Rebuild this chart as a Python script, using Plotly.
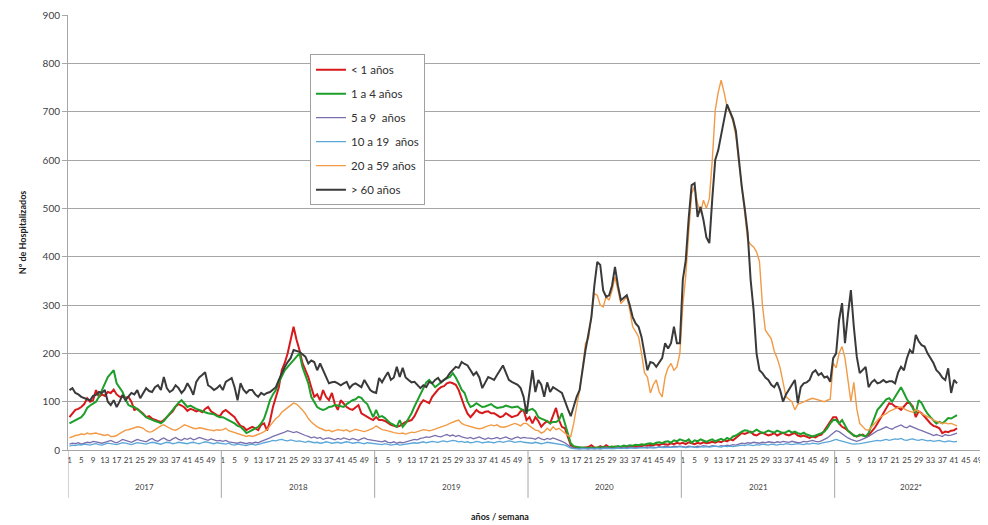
import plotly.graph_objects as go

years = ["2017", "2018", "2019", "2020", "2021", "2022*"]
weeks_per_year = [52, 52, 52, 52, 52, 42]
tick_weeks = [1, 5, 9, 13, 17, 21, 25, 29, 33, 37, 41, 45, 49]

# < 1 año
lt1 = [68,75,83,85,89,95,107,100,103,124, 110,115,112,120,118,125,115,110,110,108, 110,100,83,85,80,75,68,70,65,62, 60,58,62,68,75,80,90,95,92,88, 81,85,83,80,82,78,85,89,80,76,72,70,
       79,83,78,72,68,58,50,48,41,45, 48,45,41,52,55,40,60,89,110,130, 165,180,200,230,255,228,207,180,165,151, 130,110,115,103,124,110,103,118,95,83, 103,95,89,85,83,88,93,76,72,68,65,62,
       68,62,62,60,55,52,50,48,50,55, 58,60,62,70,83,95,103,100,97,110, 118,125,130,132,138,140,138,135,124,105, 89,75,68,75,83,78,76,79,80,76, 76,72,68,70,76,72,68,70,72,80,83,62,
       68,55,68,60,48,55,60,55,72,87, 62,48,45,28,10,6,5,5,4,5, 6,10,5,4,8,5,10,6,5,7, 6,5,8,6,7,8,6,9,8,10, 9,11,10,12,10,13,12,11,14,12,15,13,
       15,12,16,14,12,15,13,16,14,15, 17,15,18,16,20,18,22,20,25,30, 35,33,35,38,32,30,34,36,33,30, 32,35,30,33,36,32,30,33,35,30, 28,30,27,25,28,26,30,32,40,50,60,68,
       68,55,48,45,40,35,30,28,30,32, 28,30,38,45,55,65,75,85,97,95, 90,88,83,90,97,97,90,68,80,76, 70,62,55,50,48,45,35,38,37,40, 41,45]

# 1 a 4 años
a1_4 = [55,58,62,65,68,75,87,92,97,100, 110,124,135,151,158,165,138,130,120,105, 93,90,89,85,79,75,68,65,62,60, 58,55,60,68,75,83,90,98,103,95, 89,92,88,85,83,80,78,76,75,74,70,68,
        68,65,62,58,55,50,48,42,35,38, 41,45,48,55,65,83,103,115,124,140, 151,165,172,179,185,193,200,172,155,138, 110,100,89,85,83,85,89,90,93,92, 90,89,95,100,103,105,110,108,100,95,80,68,
        83,68,70,66,60,55,52,48,62,48, 55,65,76,90,103,115,130,140,145,138, 130,135,140,145,148,151,159,150,138,125, 118,100,89,92,97,93,89,90,93,95, 90,87,88,89,92,90,88,89,90,85,83,80,
        83,85,80,68,65,62,60,55,58,58, 62,76,55,35,14,8,6,5,5,4, 4,5,4,5,5,6,5,6,7,6, 8,7,9,8,10,9,11,10,12,11, 13,14,12,15,16,14,17,18,15,20,18,22,
        20,18,22,15,20,18,22,20,17,20, 22,18,20,23,20,25,22,28,30,35, 38,41,40,36,38,42,38,35,37,40, 38,36,40,38,35,37,40,36,38,35, 33,36,32,30,28,30,32,35,38,45,55,62,
        62,55,62,50,40,35,30,28,32,30, 28,35,50,68,83,90,97,105,107,100, 110,120,130,118,105,97,85,76,103,97, 85,75,68,62,55,58,55,60,66,65, 68,72]

# 5 a 9 años
a5_9 = [12,14,13,15,12,14,16,15,18,17, 15,14,16,18,20,17,15,18,22,20, 18,16,19,22,20,18,17,21,24,20, 18,22,25,21,19,23,26,22,20,24, 22,25,21,23,26,24,22,20,23,21,19,20,
        18,20,17,16,15,14,16,15,13,15, 14,16,15,18,20,22,25,28,30,33, 35,37,40,38,36,38,35,33,30,28, 25,27,24,26,22,24,25,23,21,24, 22,25,23,21,24,22,20,23,25,22,21,20,
        20,18,17,19,16,15,17,14,16,15, 17,18,20,22,21,24,25,27,26,28, 30,28,27,30,32,29,31,28,30,27, 25,24,26,23,25,27,24,22,25,23, 24,26,23,25,27,24,22,25,27,24,26,25,
        25,24,22,26,23,21,24,22,25,23, 20,18,15,10,6,4,3,3,4,3, 3,4,3,4,3,4,5,4,3,4, 5,4,5,4,6,5,4,6,5,6, 5,7,6,5,7,6,8,7,6,8,7,8,
        7,6,8,7,6,8,7,9,8,7, 9,8,7,9,8,10,9,11,10,12, 14,13,15,14,16,15,14,16,15,17, 16,15,17,16,18,17,16,18,17,15, 16,18,17,19,20,18,17,19,22,25,30,35,
        40,38,33,28,25,22,20,18,20,22, 25,28,32,35,40,42,45,48,45,43, 47,50,52,48,46,50,47,44,42,40, 38,36,33,30,32,30,28,32,30,31, 33,35]

# 10 a 19 años
a10_19 = [8,10,9,11,10,12,11,10,12,13, 11,10,12,14,13,12,11,13,15,14, 12,11,13,15,14,13,12,14,16,15, 13,12,14,16,15,13,14,16,15,14, 13,15,16,14,13,15,17,16,14,13,15,14,
          13,12,14,11,10,12,11,10,9,11, 12,10,11,13,15,16,18,20,19,21, 22,20,19,21,20,18,19,17,16,18, 17,15,16,14,15,17,16,14,15,16, 14,15,17,16,14,15,16,14,13,15,14,13,
          13,12,11,13,12,10,11,12,10,11, 12,13,14,15,14,16,17,15,16,18, 17,16,18,19,17,18,20,19,17,18, 16,17,15,16,18,17,15,16,17,16, 15,17,18,16,17,19,18,16,17,18,16,15,
          15,14,16,15,13,14,16,15,14,13, 12,11,10,7,4,3,2,2,3,2, 2,3,2,3,2,3,3,2,3,3, 4,3,4,3,4,4,3,4,5,4, 4,5,4,5,6,5,5,6,5,6,6,7,
          6,5,6,7,6,5,7,6,7,6, 7,8,7,6,8,7,8,7,8,9, 10,9,11,10,9,11,10,12,11,10, 12,11,10,12,11,13,12,11,12,13, 12,11,13,12,14,13,12,14,15,16,18,20,
          22,20,18,16,14,13,12,12,13,14, 15,16,17,18,20,19,21,22,20,21, 23,22,24,21,20,22,23,21,20,22, 21,19,20,18,19,20,18,17,19,18, 17,18]

# 20 a 59 años
a20_59 = [25,28,30,31,33,32,35,33,34,35, 33,31,30,32,28,28,30,34,38,41, 42,44,46,48,47,45,40,37,38,42, 45,50,52,48,45,42,41,44,48,52, 50,47,45,44,46,45,43,42,41,40,42,41,
          42,45,40,38,36,35,33,30,28,30, 28,30,32,35,38,42,50,58,65,70, 78,83,88,93,97,95,90,83,75,65, 58,52,48,45,42,40,41,38,40,42, 41,40,42,38,40,43,41,40,38,40,42,45,
          50,45,42,41,40,38,36,35,34,35, 33,35,37,36,38,40,42,41,40,41, 43,45,48,50,52,55,58,60,62,55, 52,50,48,47,45,44,45,48,50,52, 50,52,48,47,48,50,52,55,53,50,55,55,
          50,45,41,40,35,38,45,40,48,42, 45,40,35,30,28,55,90,124,170,221, 230,280,324,320,300,296,317,310,330,358, 330,303,310,317,290,255,245,234,200,160, 151,118,135,145,120,110,151,170,179,165,172,200,
          300,360,450,531,545,510,490,517,500,520, 600,703,740,765,740,710,697,680,650,600, 550,490,434,425,420,410,390,300,248,240, 230,205,190,170,140,110,105,100,83,95, 97,100,103,105,107,105,103,102,100,103,105,180,
          170,200,214,190,150,100,140,85,55,48, 42,41,48,55,62,68,72,75,80,83, 85,88,89,85,82,80,78,83,80,75, 72,70,66,62,60,58,55,56,54,55, 52,50]

# > 60 años
gt60 = [124,128,118,115,110,107,105,103,112,114, 120,118,124,100,93,103,89,100,114,103, 110,118,115,124,107,118,128,122,120,130, 134,124,151,128,120,124,134,128,118,125, 138,128,114,141,150,155,161,134,130,124,128,134,
        124,141,145,149,130,103,138,125,118,124, 124,115,110,118,114,118,120,125,130,145, 160,172,182,190,207,205,203,198,193,179, 185,182,165,179,165,151,138,140,141,138, 134,138,141,128,135,138,134,130,145,135,124,120,
        118,149,140,151,161,145,150,172,151,170, 150,145,140,141,135,128,134,130,141,138, 145,149,140,145,150,159,165,172,170,182, 178,175,165,155,161,150,128,140,151,148, 145,155,165,175,160,145,141,138,135,128,110,75,
        120,165,120,145,135,110,140,120,130,125, 122,118,100,85,70,90,110,124,170,207, 240,275,340,389,383,330,317,320,340,379, 340,310,315,320,300,275,262,255,234,200, 165,182,180,172,182,190,221,210,221,255,221,221,
        352,393,480,548,552,482,503,476,440,428, 520,600,620,650,680,715,700,685,660,600, 545,500,449,352,290,200,165,159,150,145, 135,130,140,124,100,115,124,135,145,97, 130,138,140,145,160,165,155,159,150,152,141,190,
        200,269,304,221,280,331,255,193,159,165, 172,130,140,145,138,140,145,140,142,142, 138,160,172,165,190,207,200,238,225,217, 214,200,190,180,165,159,150,145,169,118, 145,138]

series_names = ["< 1 años", "1 a 4 años", "5 a 9\u00a0 años", "10 a 19\u00a0 años", "20 a 59 años", "> 60 años"]
series_values = [lt1, a1_4, a5_9, a10_19, a20_59, gt60]
series_colors = ["#d7191c", "#1e9e2a", "#7a6fae", "#5aa7d8", "#f29a45", "#3a3a3a"]
series_widths = [2.0, 2.0, 1.3, 1.3, 1.4, 2.0]

FONT = "Lato"
n_full = 52
n_total = n_full * len(years)

fig = go.Figure()
for k, (name, vals, col, w) in enumerate(zip(series_names, series_values, series_colors, series_widths)):
    xs = list(range(len(vals)))
    fig.add_trace(go.Scatter(x=xs, y=vals, mode="lines", name=name,
                             line=dict(color=col, width=w), legendgroup=f"g{k}"))

tickvals, ticktext = [], []
for yi, y in enumerate(years):
    for wk in tick_weeks:
        tickvals.append(yi * n_full + wk - 1)
        ticktext.append(str(wk))

shapes = []
annotations = []
for yi, y in enumerate(years):
    shapes.append(dict(type="line", xref="x", yref="paper", x0=yi * n_full - 0.5, x1=yi * n_full - 0.5,
                       y0=0, y1=-0.11, line=dict(color="#a6a6a6", width=1)))
    annotations.append(dict(text=y, xref="x", yref="paper", x=yi * n_full + 25.5, y=-0.085,
                            yanchor="middle", xanchor="center",
                            showarrow=False, font=dict(family=FONT, size=8, color="#404040")))
annotations.append(dict(text="<b>años / semana</b>", xref="paper", yref="paper", x=0.47, y=-0.152,
                        yanchor="middle", xanchor="center",
                        showarrow=False, font=dict(family=FONT, size=9, color="#202020")))

fig.update_layout(
    width=980, height=517,
    margin=dict(l=60, r=0, t=7, b=75),
    paper_bgcolor="white", plot_bgcolor="white",
    font=dict(family=FONT, color="#404040"),
    showlegend=True,
    legend=dict(x=0.263, y=0.91, xanchor="left", yanchor="top",
                bgcolor="white", bordercolor="#a0a0a0", borderwidth=1,
                font=dict(family=FONT, size=11.5, color="#303030"),
                traceorder="grouped", tracegroupgap=5),
    xaxis=dict(range=[-0.5, n_total - 0.5], tickvals=tickvals, ticktext=ticktext, tickangle=0,
               showgrid=False, showline=True, linecolor="#a6a6a6", ticks="", zeroline=False,
               ticklabelstandoff=2, ticklabeloverflow="allow",
               tickfont=dict(family=FONT, size=8, color="#404040")),
    yaxis=dict(range=[0, 900], dtick=100, showgrid=True, gridcolor="#a6a6a6", gridwidth=1,
               showline=True, linecolor="#a6a6a6", ticks="outside", ticklen=5, tickcolor="#a6a6a6",
               zeroline=False, tickfont=dict(family=FONT, size=10, color="#404040"),
               title=dict(text="<b>Nº de Hospitalizados</b>", font=dict(family=FONT, size=9, color="#202020"), standoff=14)),
    shapes=shapes,
    annotations=annotations,
)

fig.write_html("out.html")
